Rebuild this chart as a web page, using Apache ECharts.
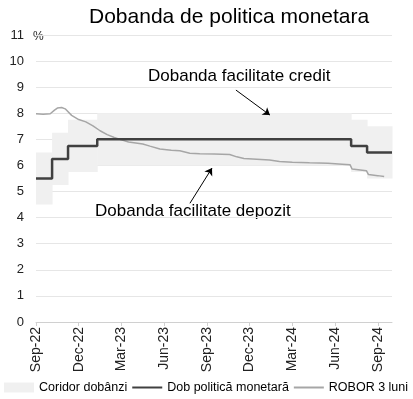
<!DOCTYPE html>
<html>
<head>
<meta charset="utf-8">
<script src="https://cdn.jsdelivr.net/npm/echarts@6/dist/echarts.min.js"></script>
<style>
html, body { margin: 0; padding: 0; background: #fff; }
#chart { width: 413px; height: 399px; }
</style>
</head>
<body>
<div id="chart"></div>
<script>
// x = luni de la 1 sep 2022
var tickLabels = ['Sep-22', 'Dec-22', 'Mar-23', 'Jun-23', 'Sep-23', 'Dec-23', 'Mar-24', 'Jun-24', 'Sep-24'];
var tickPos = [0, 3, 6, 9, 12, 15, 18, 21, 24];

// dobanda de politica monetara (trepte)
var policyX = [0, 1.13, 2.25, 4.3, 22.13, 23.25, 25];
var policyY = [5.5, 6.25, 6.75, 7.0, 6.75, 6.5, 6.5];

// coridor: facilitate depozit / facilitate credit
var depoY = [4.5, 5.25, 5.75, 6.0, 5.75, 5.5, 5.5];
var creditY = [6.5, 7.25, 7.75, 8.0, 7.75, 7.5, 7.5];

// ROBOR 3 luni
var roborX = [0, 0.5, 1.0, 1.3, 1.5, 1.8, 2.05, 2.5, 3.0, 3.5, 4.0, 4.5, 5.0, 5.5, 6.0, 6.5, 7.0, 7.5, 8.0, 8.7, 9.5, 10.1, 10.8, 11.5, 12.5, 13.6, 14.1, 14.6, 15.5, 16.4, 17.1, 18.0, 19.2, 20.5, 21.5, 22.05, 22.2, 23.2, 23.35, 24.0, 24.45];
var roborY = [7.98, 7.96, 7.98, 8.12, 8.2, 8.22, 8.17, 7.92, 7.76, 7.67, 7.52, 7.33, 7.18, 7.07, 6.98, 6.90, 6.86, 6.82, 6.74, 6.63, 6.58, 6.56, 6.47, 6.45, 6.44, 6.42, 6.33, 6.27, 6.24, 6.21, 6.15, 6.12, 6.10, 6.08, 6.05, 6.03, 5.86, 5.80, 5.65, 5.61, 5.58];

function pairs(xs, ys) {
    return xs.map(function (x, i) { return [x, ys[i]]; });
}

// segmente coridor [x0, x1, depozit, credit]
var bandData = [];
for (var i = 0; i < policyX.length - 1; i++) {
    bandData.push([policyX[i], policyX[i + 1], depoY[i], creditY[i]]);
}

var FONT = 'Liberation Sans, Arial, sans-serif';

var myChart = echarts.init(document.getElementById('chart'));
var option = {
    animation: false,
    title: {
        text: 'Dobanda de politica monetara',
        left: 84,
        top: 2,
        textStyle: { fontFamily: FONT, fontSize: 21, fontWeight: 'normal', color: '#000' }
    },
    legend: {
        bottom: 5,
        left: 4,
        width: 412,
        padding: 0,
        itemWidth: 30,
        itemHeight: 10,
        itemGap: 4,
        textStyle: { fontFamily: FONT, fontSize: 12.5, color: '#000' },
        data: [
            { name: 'Coridor dobânzi', icon: 'rect' },
            { name: 'Dob politică monetară', itemStyle: { opacity: 0 } },
            { name: 'ROBOR 3 luni', itemStyle: { opacity: 0 } }
        ]
    },
    grid: { left: 36, right: 21, top: 35, bottom: 77 },
    xAxis: {
        type: 'value',
        min: 0,
        max: 25,
        interval: 3,
        axisLine: { lineStyle: { color: '#d0d0d0', width: 1 } },
        axisTick: { show: true, length: 4, lineStyle: { color: '#d0d0d0' }, customValues: tickPos },
        splitLine: { show: false },
        axisLabel: {
            rotate: 90,
            margin: 5,
            fontFamily: FONT,
            fontSize: 14,
            color: '#222',
            customValues: tickPos,
            formatter: function (v) {
                var k = tickPos.indexOf(v);
                return k >= 0 ? tickLabels[k] : '';
            }
        }
    },
    yAxis: {
        type: 'value',
        min: 0,
        max: 11,
        interval: 1,
        axisLine: { show: false },
        axisTick: { show: false },
        splitLine: { lineStyle: { color: '#e6e6e6', width: 1 } },
        axisLabel: { margin: 12, fontFamily: FONT, fontSize: 13, color: '#222' }
    },
    graphic: [
        { type: 'text', left: 33, top: 31, style: { text: '%', font: '12px ' + FONT, fill: '#222' } },
        { type: 'text', left: 148, top: 68, style: { text: 'Dobanda facilitate credit', font: '17px ' + FONT, fill: '#000' } },
        { type: 'text', left: 95, top: 203, style: { text: 'Dobanda facilitate depozit', font: '17px ' + FONT, fill: '#000' } }
    ],
    series: [
        {
            name: 'Coridor dobânzi',
            type: 'custom',
            silent: true,
            itemStyle: { color: '#f0f0f0' },
            encode: { x: [0, 1], y: [2, 3] },
            renderItem: function (params, api) {
                var p1 = api.coord([api.value(0), api.value(3)]);
                var p2 = api.coord([api.value(1), api.value(2)]);
                return {
                    type: 'rect',
                    shape: { x: p1[0], y: p1[1], width: p2[0] - p1[0] + 0.5, height: p2[1] - p1[1] },
                    style: { fill: '#f0f0f0' }
                };
            },
            data: bandData,
            z: 1
        },
        {
            name: 'ROBOR 3 luni',
            type: 'line',
            symbol: 'none',
            color: '#a6a6a6',
            lineStyle: { width: 1.5, color: '#a6a6a6' },
            data: pairs(roborX, roborY),
            z: 3
        },
        {
            name: 'Dob politică monetară',
            type: 'line',
            step: 'end',
            symbol: 'none',
            color: '#404040',
            lineStyle: { width: 2.5, color: '#404040' },
            data: pairs(policyX, policyY),
            z: 4,
            markLine: {
                silent: true,
                symbol: ['none', 'arrow'],
                symbolSize: 7,
                label: { show: false },
                lineStyle: { color: '#000', width: 1, type: 'solid' },
                data: [
                    [{ coord: [14.04, 8.89] }, { coord: [16.43, 7.93] }],
                    [{ coord: [10.81, 4.55] }, { coord: [12.36, 5.9] }]
                ]
            }
        }
    ]
};
myChart.setOption(option);
</script>
</body>
</html>
